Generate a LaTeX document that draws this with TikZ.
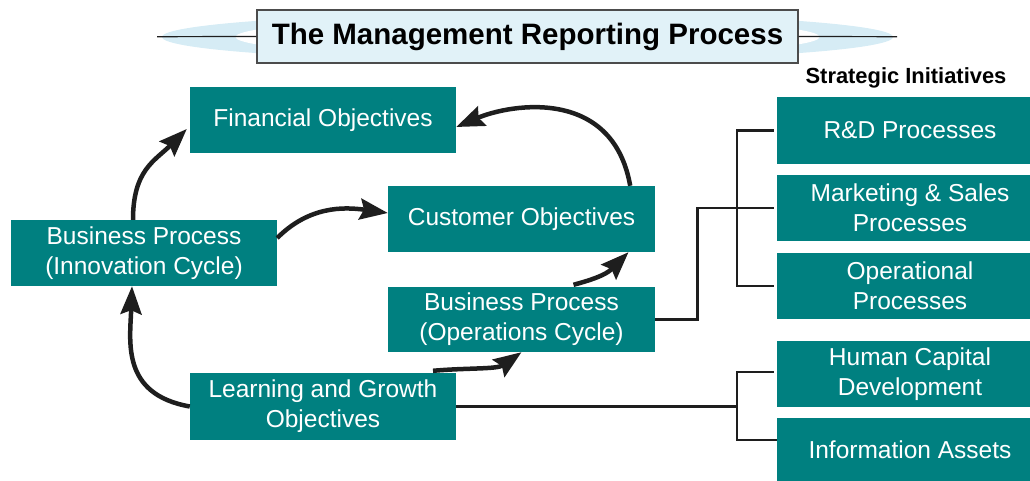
\documentclass[tikz,border=0pt]{standalone}
\usepackage{fontspec}
\setmainfont{Liberation Sans}
\usetikzlibrary{arrows.meta}

\definecolor{boxteal}{RGB}{0,128,128}
\definecolor{lensblue}{RGB}{214,236,245}
\definecolor{titleblue}{RGB}{225,242,248}
\definecolor{inkgray}{RGB}{30,30,30}

\begin{document}
\begin{tikzpicture}[x=1pt,y=1pt,
  objbox/.style={fill=boxteal,text=white,align=center,minimum width=266pt,minimum height=66pt,inner sep=0pt,font=\fontsize{24.5}{30}\selectfont},
  initbox/.style={objbox,minimum width=266pt},
  cyc/.style={line width=4.5pt,draw=inkgray,-{Stealth[length=28pt,width=21pt,inset=4pt]}},
  brk/.style={line width=2.6pt,draw=inkgray}]

      \useasboundingbox (0,0) rectangle (1030,481);

      % title band
      \fill[lensblue] (527.5,444) ellipse [x radius=365.5,y radius=24];
      \fill[white] (527.5,444) ellipse [x radius=292,y radius=19.7];
      \coordinate (ruleL) at (157,444.3);
      \coordinate (ruleR) at (897,444.3);
      \node[draw=black!70,fill=titleblue,line width=1.3pt,minimum width=541pt,minimum height=53pt,font=\fontsize{29.5}{35}\selectfont\bfseries] (title) at (527.5,444.5){The Management Reporting Process};
      \draw[line width=1.2pt,inkgray] (ruleL) -- (title.west);
      \draw[line width=1.2pt,inkgray] (title.east) -- (ruleR);

      % objectives
      \node[objbox] (fin) at (323,361){Financial Objectives};
      \node[objbox,minimum width=267pt] (cust) at (521.5,262){Customer Objectives};
      \node[objbox] (innov) at (144,228){Business Process\\(Innovation Cycle)};
      \node[objbox,minimum width=267pt,minimum height=65pt] (ops) at (521.5,161.5){Business Process\\(Operations Cycle)};
      \node[objbox,minimum height=67pt] (learn) at (323,74.5){Learning and Growth\\Objectives};

      % strategic initiatives
      \node[font=\fontsize{21.9}{26}\selectfont\bfseries] (si) at (906,403){Strategic Initiatives};
      \node[initbox,minimum height=67pt] (rd) at (910,350.5){R\&D Processes};
      \node[initbox] (mkt) at (910,273){Marketing \& Sales\\Processes};
      \node[initbox] (opr) at (910,195){Operational\\Processes};
      \node[initbox] (hum) at (910,107){Human Capital\\Development};
      \node[initbox,minimum height=63pt] (info) at (910,31.5){Information Assets};

      \draw[cyc] ([xshift=-11pt]innov.north) .. controls +(90:50) and +(225:45) .. ([xshift=-3pt,yshift=-9pt]fin.west);
      \draw[cyc] ([yshift=15pt]innov.east) .. controls +(45:45) and +(172:45) .. ([yshift=6pt]cust.west);
      \draw[cyc] ([xshift=-25pt]cust.north east) .. controls +(100:100) and +(23:60) .. ([yshift=-7pt]fin.east);
      \draw[cyc] (learn.west) .. controls +(170:70) and +(-92:55) .. ([xshift=-12pt]innov.south);
      \draw[cyc] ([xshift=110pt,yshift=2pt]learn.north) .. controls +(5:35) and +(215:30) .. (ops.south);
      \draw[cyc] ([xshift=52pt,yshift=2pt]ops.north) .. controls +(15:30) and +(225:28) .. ([xshift=107pt]cust.south);

      \draw[brk] ([xshift=-3pt]rd.west) -- ++(-37,0) |- ([xshift=-3pt]opr.west);
      \draw[brk] (ops.east) -- ++(42,0) |- ([xshift=-3pt]mkt.west);
      \draw[brk] ([xshift=-3pt,yshift=2pt]hum.west) -- ++(-37,0) |- ([yshift=9.5pt]info.west);
      \draw[brk] (learn.east) -- ++(281,0);
    \end{tikzpicture}
\end{document}
